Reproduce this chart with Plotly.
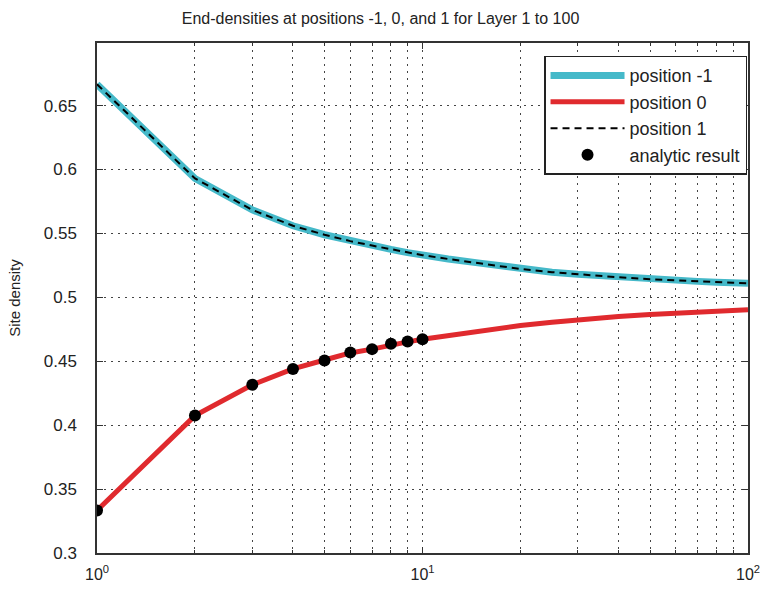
import plotly.graph_objects as go

# Layers (x) and read-off densities
layers = [1, 2, 3, 4, 5, 6, 7, 8, 9, 10, 12, 15, 20, 25, 30, 40, 50, 60, 70, 80, 90, 100]
pos_m1 = [0.6667, 0.5930, 0.5684, 0.5560, 0.5490, 0.5440, 0.5405, 0.5375, 0.5350, 0.5330,
          0.5300, 0.5268, 0.5222, 0.5197, 0.5180, 0.5157, 0.5142, 0.5132, 0.5125, 0.5119, 0.5114, 0.5110]
pos_0 = [0.3333, 0.4075, 0.4316, 0.4440, 0.4510, 0.4565, 0.4595, 0.4630, 0.4652, 0.4672,
         0.4702, 0.4738, 0.4780, 0.4805, 0.4825, 0.4850, 0.4866, 0.4878, 0.4886, 0.4893, 0.4898, 0.4903]
pos_1 = [0.6667, 0.5930, 0.5684, 0.5560, 0.5490, 0.5440, 0.5405, 0.5375, 0.5350, 0.5330,
         0.5300, 0.5268, 0.5222, 0.5197, 0.5180, 0.5157, 0.5142, 0.5132, 0.5125, 0.5119, 0.5114, 0.5110]
analytic_n = [1, 2, 3, 4, 5, 6, 7, 8, 9, 10]
analytic_v = [0.3333, 0.4075, 0.4316, 0.4440, 0.4506, 0.4569, 0.4595, 0.4637, 0.4655, 0.4673]

x_major = [1, 10, 100]
x_major_text = ["10<sup>0</sup>", "10<sup>1</sup>", "10<sup>2</sup>"]
x_minor = [2, 3, 4, 5, 6, 7, 8, 9, 20, 30, 40, 50, 60, 70, 80, 90]
y_ticks = [0.3, 0.35, 0.4, 0.45, 0.5, 0.55, 0.6, 0.65]
y_text = ["0.3", "0.35", "0.4", "0.45", "0.5", "0.55", "0.6", "0.65"]

font = "Liberation Sans, Arial, sans-serif"

fig = go.Figure()
fig.add_trace(go.Scatter(x=layers, y=pos_m1, mode="lines", name="position -1",
                         line=dict(color="#45B9C9", width=7)))
fig.add_trace(go.Scatter(x=layers, y=pos_0, mode="lines", name="position 0",
                         line=dict(color="#E02A2E", width=5)))
fig.add_trace(go.Scatter(x=layers, y=pos_1, mode="lines", name="position 1",
                         line=dict(color="black", width=2, dash="7px,5px")))
fig.add_trace(go.Scatter(x=analytic_n, y=analytic_v, mode="markers", name="analytic result",
                         marker=dict(color="black", size=12, symbol="circle")))

grid_style = dict(showgrid=True, gridcolor="#444444", gridwidth=1, griddash="2px,5px")

fig.update_xaxes(type="log", range=[0, 2], tickvals=x_major, ticktext=x_major_text,
                 ticks="inside", ticklen=6, tickcolor="#333", mirror="ticks",
                 showline=True, linecolor="#333", linewidth=1.5, zeroline=False,
                 automargin=False, ticklabelstandoff=6, ticklabeloverflow="allow",
                 tickfont=dict(family=font, size=16, color="#222"),
                 minor=dict(tickvals=x_minor, ticks="inside", ticklen=3, tickcolor="#333",
                            **grid_style),
                 **grid_style)
fig.update_yaxes(range=[0.3, 0.699], tickvals=y_ticks, ticktext=y_text,
                 ticks="inside", ticklen=6, tickcolor="#333", mirror="ticks",
                 showline=True, linecolor="#333", linewidth=1.5, zeroline=False,
                 automargin=False, ticklabelstandoff=15,
                 tickfont=dict(family=font, size=17, color="#222"),
                 title=dict(text="Site density", font=dict(family=font, size=15, color="#222"),
                            standoff=20),
                 **grid_style)

fig.update_layout(
    width=761, height=593,
    margin=dict(l=97, r=13, t=43, b=40),
    paper_bgcolor="white", plot_bgcolor="white",
    title=dict(text="End-densities at positions -1, 0, and 1 for Layer 1 to 100",
               x=0.5, xanchor="center", y=0.978, yanchor="top",
               font=dict(family=font, size=16, color="#222")),
    showlegend=True,
    legend=dict(x=0.9985, y=0.975, xanchor="right", yanchor="top",
                bgcolor="white", bordercolor="#222", borderwidth=1.5,
                font=dict(family=font, size=18, color="#222"),
                itemwidth=74, tracegroupgap=0),
)

fig.write_html("out.html")
